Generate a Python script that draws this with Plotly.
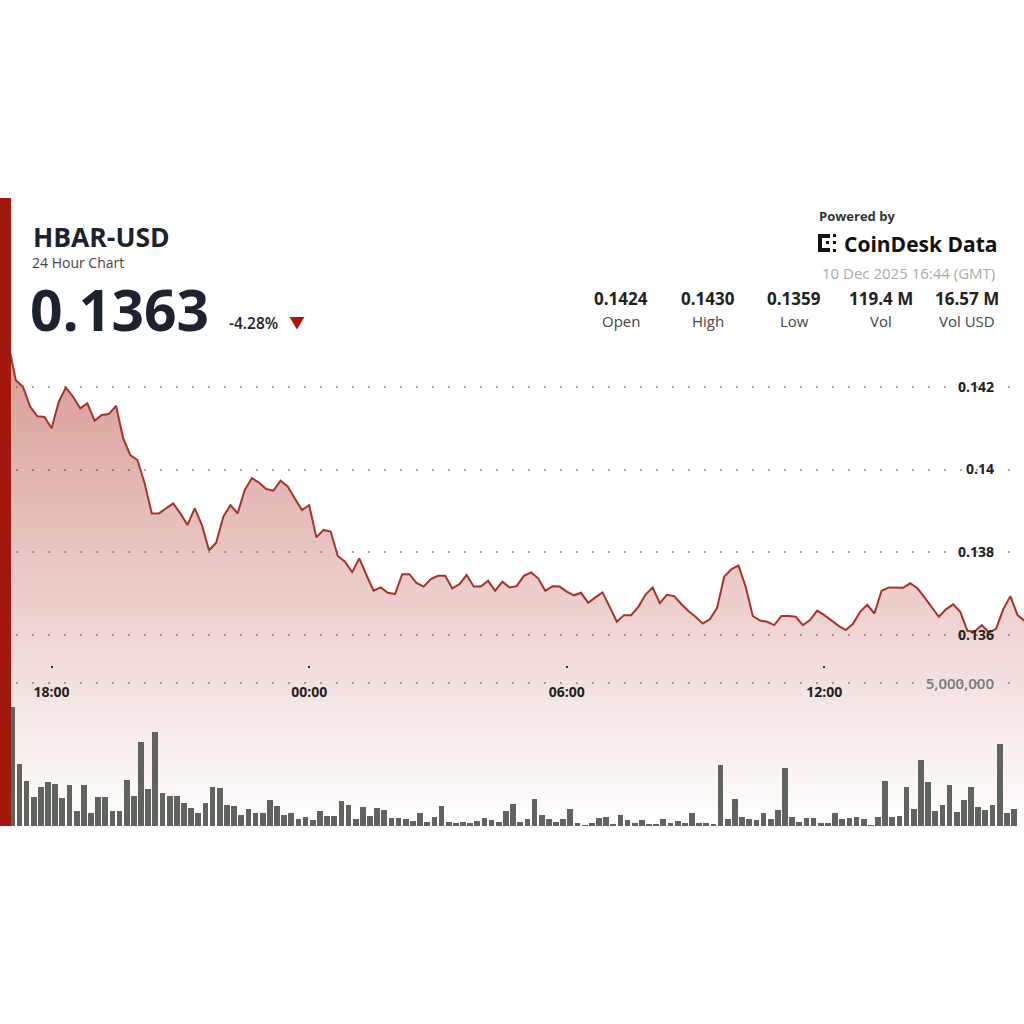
import pandas as pd
import plotly.graph_objects as go

# ---------------- data ----------------
symbol = "HBAR-USD"
subtitle = "24 Hour Chart"
last_price = "0.1363"
change_pct = "-4.28%"
stat_values = ["0.1424", "0.1430", "0.1359", "119.4 M", "16.57 M"]
stat_labels = ["Open", "High", "Low", "Vol", "Vol USD"]
timestamp_text = "10 Dec 2025 16:44 (GMT)"
powered_by = "Powered by"
brand = "CoinDesk Data"

start_time = "2025-12-09 17:00"
step = "10min"

prices = [
    0.14300, 0.14216, 0.14200, 0.14152, 0.14129, 0.14127, 0.14100, 0.14164,
    0.14198, 0.14176, 0.14148, 0.14160, 0.14118, 0.14132, 0.14134, 0.14154,
    0.14076, 0.14035, 0.14023, 0.13967, 0.13894, 0.13894, 0.13906, 0.13918,
    0.13894, 0.13866, 0.13906, 0.13866, 0.13805, 0.13823, 0.13886, 0.13914,
    0.13894, 0.13951, 0.13979, 0.13968, 0.13953, 0.13949, 0.13973, 0.13959,
    0.13930, 0.13902, 0.13914, 0.13836, 0.13854, 0.13850, 0.13791, 0.13777,
    0.13752, 0.13785, 0.13745, 0.13707, 0.13715, 0.13702, 0.13699, 0.13747,
    0.13747, 0.13726, 0.13717, 0.13735, 0.13743, 0.13743, 0.13713, 0.13723,
    0.13745, 0.13717, 0.13717, 0.13731, 0.13707, 0.13729, 0.13715, 0.13718,
    0.13743, 0.13751, 0.13737, 0.13707, 0.13718, 0.13717, 0.13705, 0.13696,
    0.13702, 0.13678, 0.13691, 0.13703, 0.13668, 0.13632, 0.13648, 0.13648,
    0.13668, 0.13697, 0.13715, 0.13677, 0.13697, 0.13694, 0.13675, 0.13658,
    0.13644, 0.13628, 0.13638, 0.13665, 0.13741, 0.13759, 0.13768, 0.13717,
    0.13646, 0.13635, 0.13632, 0.13624, 0.13646, 0.13646, 0.13644, 0.13624,
    0.13636, 0.13659, 0.13648, 0.13635, 0.13622, 0.13612, 0.13627, 0.13656,
    0.13673, 0.13652, 0.13707, 0.13715, 0.13715, 0.13714, 0.13725, 0.13713,
    0.13691, 0.13668, 0.13644, 0.13662, 0.13674, 0.13656, 0.13610, 0.13608,
    0.13624, 0.13606, 0.13615, 0.13662, 0.13694, 0.13648, 0.13634,
]

volumes_m = [
    4.18, 2.18, 1.56, 1.02, 1.35, 1.53, 1.47, 0.98, 1.45, 0.54, 1.45, 0.45,
    1.01, 1.01, 0.51, 0.54, 1.60, 1.04, 2.93, 1.31, 3.31, 1.16, 1.04, 1.06,
    0.81, 0.64, 0.46, 0.81, 1.38, 1.32, 0.75, 0.69, 0.37, 0.60, 0.45, 0.45,
    0.91, 0.69, 0.37, 0.44, 0.26, 0.32, 0.22, 0.52, 0.34, 0.34, 0.86, 0.75,
    0.25, 0.66, 0.34, 0.62, 0.55, 0.27, 0.27, 0.25, 0.19, 0.44, 0.15, 0.32,
    0.69, 0.15, 0.11, 0.15, 0.11, 0.19, 0.27, 0.20, 0.13, 0.54, 0.78, 0.15,
    0.25, 0.93, 0.40, 0.25, 0.13, 0.25, 0.58, 0.11, 0.03, 0.09, 0.27, 0.32,
    0.08, 0.39, 0.20, 0.09, 0.20, 0.04, 0.06, 0.23, 0.11, 0.18, 0.11, 0.46,
    0.09, 0.09, 0.08, 2.15, 0.25, 0.95, 0.30, 0.23, 0.20, 0.44, 0.25, 0.55,
    2.03, 0.32, 0.15, 0.29, 0.27, 0.11, 0.11, 0.46, 0.23, 0.27, 0.31, 0.23,
    0.03, 0.32, 1.56, 0.32, 0.34, 1.37, 0.59, 2.30, 1.54, 0.51, 0.72, 1.45,
    0.48, 0.90, 1.35, 0.66, 0.55, 0.75, 2.88, 0.46, 0.61,
]

price_ticks = [0.136, 0.138, 0.14, 0.142]
price_tick_text = ["0.136", "0.138", "0.14", "0.142"]
volume_ticks = [5_000_000]
volume_tick_text = ["5,000,000"]
time_ticks = ["2025-12-09 18:00", "2025-12-10 00:00", "2025-12-10 06:00", "2025-12-10 12:00"]
time_tick_text = ["18:00", "00:00", "06:00", "12:00"]

# ---------------- layout geometry ----------------
W, H = 1024, 1024
TOP, BOTTOM = 198, 826          # plot area in page pixels
PH = BOTTOM - TOP


def xp(px):
    return px / W


def yp(py):
    return (BOTTOM - py) / PH


times = pd.date_range(start_time, periods=len(prices), freq=step)
volumes = [v * 1e6 for v in volumes_m]

# price axis calibration (0.136 at y=635, 0.142 at y=386.8)
s = 0.006 / (635 - 386.8)
pmin = 0.136 - (BOTTOM - 635) * s
pmax = 0.142 + (386.8 - TOP) * s
# volume axis calibration (5,000,000 at y=683.3)
vmax = 5e6 * PH / (BOTTOM - 683.3)
# time axis calibration (18:00 at x=51.6, 42.93 px per hour)
t18 = pd.Timestamp("2025-12-09 18:00")
pxh = 42.93
t0 = t18 - pd.Timedelta(hours=51.6 / pxh)
t1 = t18 + pd.Timedelta(hours=(W - 51.6) / pxh)

FONT = "Open Sans"
DARK = "#1c2230"
LINE = "#a8332a"

fig = go.Figure()
fig.add_trace(go.Scatter(
    x=times, y=prices, mode="lines",
    line=dict(color=LINE, width=2),
    fill="tozeroy",
    fillgradient=dict(
        type="vertical",
        colorscale=[[0, "rgba(176,52,42,0.0)"], [1, "rgba(176,52,42,0.50)"]],
        start=pmin, stop=max(prices),
    ),
    yaxis="y", hoverinfo="skip", showlegend=False,
))
fig.add_trace(go.Bar(
    x=times[:len(volumes)], y=volumes,
    width=8 * 60000, offset=60000,
    marker=dict(color="#5f645f", line=dict(width=0)),
    yaxis="y2", hoverinfo="skip", showlegend=False,
))

grid = dict(showgrid=True, gridcolor="#a9a9a9", gridwidth=1.5, griddash="2px,14px",
            zeroline=False, showline=False, ticks="")

fig.update_layout(
    width=W, height=H,
    margin=dict(l=0, r=0, t=TOP, b=H - BOTTOM, pad=0),
    paper_bgcolor="white", plot_bgcolor="white",
    font=dict(family=FONT, color=DARK),
    bargap=0,
    xaxis=dict(
        type="date", range=[t0, t1], tickvals=time_ticks, ticktext=time_tick_text,
        showgrid=False, zeroline=False, showline=False,
        ticks="outside", ticklen=2, tickwidth=2, tickcolor="#333",
        anchor="free", position=yp(665), ticklabelstandoff=12,
        tickfont=dict(family=FONT, size=14, color="#222", weight="bold"),
    ),
    yaxis=dict(
        range=[pmin, pmax], tickvals=price_ticks, ticktext=price_tick_text,
        side="right", ticklabelposition="inside", ticklabelstandoff=27,
        tickfont=dict(family=FONT, size=14, color="#222", weight="bold"),
        **grid,
    ),
    yaxis2=dict(
        range=[0, vmax], tickvals=volume_ticks, ticktext=volume_tick_text,
        overlaying="y", side="right", ticklabelposition="inside", ticklabelstandoff=27,
        tickfont=dict(family=FONT, size=15, color="#7a7a7a", weight=600),
        **grid,
    ),
)

shapes = [
    dict(type="rect", xref="paper", yref="paper", x0=0, x1=xp(11), y0=0, y1=1,
         fillcolor="#a3180e", line=dict(width=0), layer="above"),
    # down-arrow marker next to the change figure
    dict(type="path", xref="paper", yref="paper",
         path=f"M {xp(289.5)} {yp(317)} L {xp(304.5)} {yp(317)} L {xp(297)} {yp(329.5)} Z",
         fillcolor="#b0160c", line=dict(width=0), layer="above"),
]
# CoinDesk Data logo mark (approximate)
for (x0, y0, x1, y1) in [(818, 234, 822, 252), (818, 234, 830, 238), (818, 248, 830, 252),
                         (833, 234, 836, 237), (833, 249, 836, 252),
                         (826, 241, 829, 244), (833, 241, 836, 244)]:
    shapes.append(dict(type="rect", xref="paper", yref="paper",
                       x0=xp(x0), x1=xp(x1), y0=yp(y1), y1=yp(y0),
                       fillcolor="#111", line=dict(width=0), layer="above"))
fig.update_layout(shapes=shapes)

ann = []


def text(t, x, y, size, color=DARK, weight="normal", xanchor="left"):
    ann.append(dict(text=t, x=xp(x), y=yp(y), xref="paper", yref="paper",
                    xanchor=xanchor, yanchor="middle", showarrow=False,
                    font=dict(family=FONT, size=size, color=color, weight=weight)))


text(symbol, 31, 237, 26.5, DARK, "bold")
text(subtitle, 30, 262, 14, "#444")
text(last_price, 28, 308.5, 57, DARK, "bold")
text(change_pct, 227, 323, 15.5, "#222", 600)
text(powered_by, 817, 216, 13, "#333", "bold")
text(brand, 842, 244, 21, "#111", "bold")
text(timestamp_text, 997, 273, 15, "#aaaaaa", "normal", "right")
stat_x = [621, 708, 794, 881, 967]
for cx, v, lab in zip(stat_x, stat_values, stat_labels):
    text(v, cx, 298, 17, "#222", "bold", "center")
    text(lab, cx, 321, 15, "#444", "normal", "center")
fig.update_layout(annotations=ann)

fig.write_html("out.html")
